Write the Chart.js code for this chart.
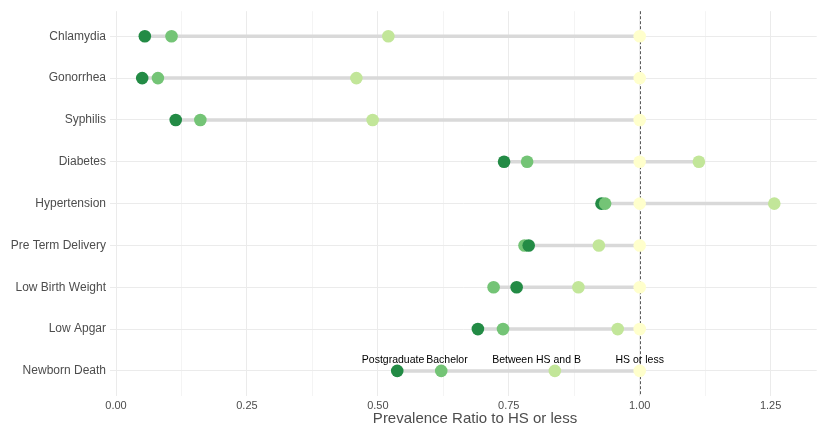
<!DOCTYPE html>
<html>
<head>
<meta charset="utf-8">
<script src="https://cdn.jsdelivr.net/npm/chart.js@4/dist/chart.umd.min.js"></script>
<style>
    html, body { margin: 0; padding: 0; background: #fff; }
    #wrap { width: 823px; height: 427px; }
</style>
</head>
<body>
<div id="wrap"><canvas id="dumbbellChart"></canvas></div>
<script>
// ===== Data =====
const categories = ['Chlamydia', 'Gonorrhea', 'Syphilis', 'Diabetes', 'Hypertension',
    'Pre Term Delivery', 'Low Birth Weight', 'Low Apgar', 'Newborn Death'];
const postgraduate = [0.055, 0.050, 0.114, 0.741, 0.927, 0.788, 0.765, 0.691, 0.537];
const bachelor     = [0.106, 0.080, 0.161, 0.785, 0.934, 0.780, 0.721, 0.739, 0.621];
const betweenHSB   = [0.520, 0.459, 0.490, 1.113, 1.257, 0.922, 0.883, 0.958, 0.838];
const hsOrLess     = [1, 1, 1, 1, 1, 1, 1, 1, 1];
const groupNames   = ['Postgraduate', 'Bachelor', 'Between HS and B', 'HS or less'];
const xTickValues  = [0, 0.125, 0.25, 0.375, 0.5, 0.625, 0.75, 0.875, 1, 1.125, 1.25];
const referenceX   = 1;
const xTitle       = 'Prevalence Ratio to HS or less';

// label positions above the last row (x in data units)
const groupLabelX  = [0.529, 0.632, 0.803, 1.0];

const groupColors = ['#238b45', '#74c476', '#c2e699', '#ffffcc'];
const groupValues = [postgraduate, bachelor, betweenHSB, hsOrLess];
const FONT = '"Liberation Sans", Arial, sans-serif';

// ===== Build datasets =====
const segmentSets = categories.map((cat, i) => {
    const vals = groupValues.map(g => g[i]);
    return {
        type: 'line',
        order: 2,
        data: [{ x: Math.min(...vals), y: i + 1 }, { x: Math.max(...vals), y: i + 1 }],
        borderColor: '#d9d9d9',
        borderWidth: 3.5,
        pointRadius: 0,
        showLine: true
    };
});

const pointData = [];
const pointColors = [];
categories.forEach((cat, i) => {
    const row = groupValues.map((g, k) => ({ x: g[i], y: i + 1, color: groupColors[k] }));
    row.sort((a, b) => a.x - b.x);
    row.forEach(p => {
        pointData.push({ x: p.x, y: p.y });
        pointColors.push(p.color);
    });
});

// ===== Plugins =====
const refLinePlugin = {
    id: 'refLine',
    beforeDatasetsDraw(chart) {
        const { ctx, chartArea, scales } = chart;
        const x = Math.round(scales.x.getPixelForValue(referenceX)) + 0.5;
        ctx.save();
        ctx.strokeStyle = '#5a5a5a';
        ctx.lineWidth = 1;
        ctx.setLineDash([3, 2]);
        ctx.beginPath();
        ctx.moveTo(x, chartArea.top);
        ctx.lineTo(x, chartArea.bottom);
        ctx.stroke();
        ctx.restore();
    }
};

const textPlugin = {
    id: 'groupLabels',
    afterDraw(chart) {
        const { ctx, scales } = chart;
        const y = scales.y.getPixelForValue(categories.length) - 11;
        ctx.save();
        ctx.fillStyle = '#000000';
        ctx.font = '10.5px ' + FONT;
        ctx.textAlign = 'center';
        ctx.textBaseline = 'middle';
        groupNames.forEach((name, k) => {
            ctx.fillText(name, scales.x.getPixelForValue(groupLabelX[k]), y);
        });
        // x axis title
        ctx.fillStyle = '#4d4d4d';
        ctx.font = '15px ' + FONT;
        ctx.fillText(xTitle, 475, 419);
        ctx.restore();
    }
};

// ===== Chart =====
new Chart(document.getElementById('dumbbellChart'), {
    type: 'scatter',
    data: {
        datasets: [
            ...segmentSets,
            {
                type: 'scatter',
                order: 1,
                data: pointData,
                pointBackgroundColor: pointColors,
                pointBorderWidth: 0,
                pointRadius: 6.3,
                pointHoverRadius: 6.3
            }
        ]
    },
    options: {
        responsive: true,
        maintainAspectRatio: false,
        animation: false,
        layout: { padding: { top: 11, right: 3, left: 0, bottom: 0 } },
        plugins: {
            legend: { display: false },
            tooltip: { enabled: false }
        },
        scales: {
            x: {
                type: 'linear',
                min: -0.0115,
                max: 1.338,
                afterBuildTicks: scale => {
                    scale.ticks = xTickValues.map(v => ({ value: v }));
                },
                afterFit: scale => { scale.height = 31; },
                border: { display: false },
                grid: {
                    drawTicks: false,
                    color: c => (Math.abs(c.tick.value * 4 - Math.round(c.tick.value * 4)) < 1e-6 ? '#ebebeb' : '#f4f4f4'),
                    lineWidth: 1
                },
                ticks: {
                    padding: 3,
                    color: '#4d4d4d',
                    font: { family: FONT, size: 11 },
                    maxRotation: 0,
                    autoSkip: false,
                    callback: v => (Math.abs(v * 4 - Math.round(v * 4)) < 1e-6 ? v.toFixed(2) : '')
                },
                title: { display: false }
            },
            y: {
                type: 'linear',
                reverse: true,
                min: 0.4,
                max: categories.length + 0.6,
                afterBuildTicks: scale => {
                    scale.ticks = categories.map((c, i) => ({ value: i + 1 }));
                },
                afterFit: scale => { scale.width = 110; },
                border: { display: false },
                grid: {
                    drawTicks: false,
                    color: '#ebebeb',
                    lineWidth: 1
                },
                ticks: {
                    padding: 4,
                    color: '#4d4d4d',
                    font: { family: FONT, size: 12 },
                    autoSkip: false,
                    callback: v => categories[Math.round(v) - 1] || ''
                }
            }
        }
    },
    plugins: [refLinePlugin, textPlugin]
});
</script>
</body>
</html>
